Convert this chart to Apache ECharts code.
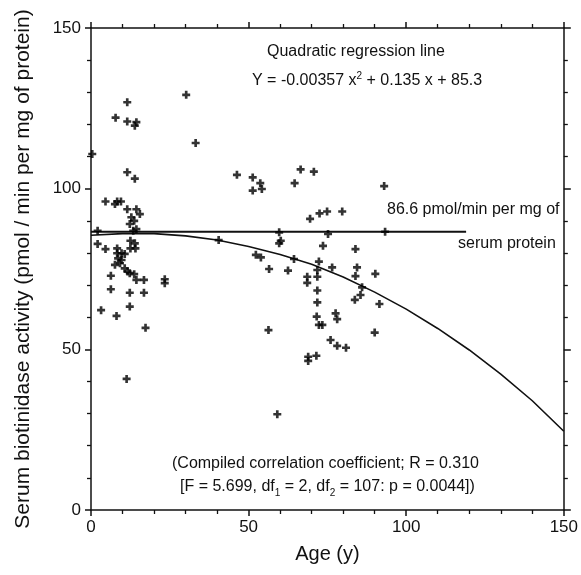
<!DOCTYPE html>
<html>
<head>
<meta charset="utf-8">
<script src="https://cdn.jsdelivr.net/npm/echarts@6/dist/echarts.min.js"></script>
<style>
  html, body { margin: 0; padding: 0; background: #fff; }
  #chart { width: 581px; height: 575px; }
</style>
</head>
<body>
<div id="chart"></div>
<script>
// subjects: age (y) and serum biotinidase activity
const ages = [
  30.2, 11.5, 7.8, 11.5, 14.4, 13.9, 33.2, 0.4, 11.5, 13.9,
  4.6, 7.6, 8.3, 9.5, 11.5, 14.4, 15.5, 12.8, 12.3, 13.7,
  14.4, 13.4, 2.1, 2.1, 4.6, 8.3, 8.3, 9.7, 10.7, 12.5,
  13.9, 12.5, 14.1, 8.6, 9.7, 7.6, 9.2, 10.7, 11.6, 12.3,
  13.7, 14.4, 16.8, 23.4, 23.4, 6.3, 6.3, 12.3, 16.8, 3.2,
  12.3, 8.1, 17.3, 11.3, 46.3, 51.3, 53.7, 54.2, 51.3, 66.5,
  70.7, 64.6, 69.5, 72.5, 74.9, 79.7, 59.7, 75.2, 59.7, 60.2,
  73.6, 40.5, 52.3, 53.9, 93.0, 93.3, 83.9, 56.5, 62.5, 64.4,
  72.3, 71.8, 71.8, 68.6, 68.6, 76.5, 84.4, 83.9, 90.2, 71.8,
  71.8, 86.0, 85.5, 83.7, 91.5, 71.6, 72.3, 73.4, 77.6, 78.1,
  56.3, 90.0, 76.0, 78.1, 80.9, 68.9, 68.9, 71.5, 59.1
];
const activity = [
  129.2, 126.9, 122.1, 120.9, 120.7, 119.6, 114.2, 110.8, 105.1, 103.1,
  96.0, 95.2, 96.0, 96.0, 93.6, 93.6, 92.1, 91.1, 89.0, 90.0,
  87.4, 86.9, 86.9, 82.8, 81.2, 81.4, 79.9, 79.9, 79.7, 83.8,
  83.0, 81.4, 81.4, 78.3, 77.8, 76.3, 76.8, 75.2, 74.2, 73.7,
  73.4, 71.6, 71.6, 71.8, 70.6, 72.9, 68.7, 67.6, 67.6, 62.2,
  63.3, 60.4, 56.7, 40.8, 104.3, 103.5, 101.7, 99.9, 99.4, 106.0,
  105.3, 101.7, 90.6, 92.3, 92.9, 92.9, 86.4, 85.9, 83.0, 83.8,
  82.2, 84.0, 79.4, 78.6, 100.8, 86.6, 81.2, 75.0, 74.5, 78.1,
  77.3, 74.7, 72.6, 72.6, 70.7, 75.5, 75.5, 72.8, 73.5, 68.3,
  64.6, 69.3, 66.9, 65.4, 64.1, 60.2, 57.6, 57.6, 61.2, 59.4,
  56.0, 55.2, 52.9, 51.1, 50.5, 47.7, 46.4, 48.0, 29.8
];

// quadratic regression line, read at every 10 years
const curveAges = [0, 10, 20, 30, 40, 50, 60, 70, 80, 90, 100, 110, 120, 130, 140, 150];
const curveValues = [85.5, 86.0, 86.0, 85.3, 84.0, 82.0, 79.5, 76.5, 72.5, 67.8, 62.5, 56.5, 49.8, 42.3, 34.0, 24.5];

// mean level line
const meanAges = [0, 119];
const meanValue = 86.6;

const axisTicks = [0, 50, 100, 150];

const font = "'Liberation Sans', Arial, sans-serif";
const ink = '#111';

const chart = echarts.init(document.getElementById('chart'));

const points = ages.map((a, i) => [a, activity[i]]);
const curve = curveAges.map((a, i) => [a, curveValues[i]]);
const meanLine = meanAges.map(a => [a, meanValue]);

function valueAxis(extra) {
  return Object.assign({
    type: 'value',
    min: axisTicks[0],
    max: axisTicks[axisTicks.length - 1],
    interval: axisTicks[1] - axisTicks[0],
    axisLine: { show: true, onZero: false, lineStyle: { color: ink, width: 1.5 } },
    axisTick: { show: true, length: 6, lineStyle: { color: ink, width: 1.5 } },
    minorTick: { show: true, splitNumber: 5, length: 4, lineStyle: { color: ink, width: 1.3 } },
    splitLine: { show: false },
    axisLabel: { show: false }
  }, extra);
}

const labelStyle = { show: true, color: ink, fontFamily: font, fontSize: 17 };

const plus = 'path://M3,0H6V3H9V6H6V9H3V6H0V3H3Z';

chart.setOption({
  animation: false,
  backgroundColor: '#fff',
  grid: { left: 91, right: 15, top: 28, bottom: 65 },
  xAxis: [
    valueAxis({
      position: 'bottom',
      axisLabel: Object.assign({ margin: 9 }, labelStyle),
      name: 'Age (y)',
      nameLocation: 'middle',
      nameGap: 34,
      nameTextStyle: { color: ink, fontFamily: font, fontSize: 20 }
    }),
    valueAxis({ position: 'top' })
  ],
  yAxis: [
    valueAxis({
      position: 'left',
      axisLabel: Object.assign({ margin: 10 }, labelStyle),
      name: 'Serum biotinidase activity (pmol / min per mg of protein)',
      nameLocation: 'middle',
      nameGap: 57,
      nameTextStyle: { color: ink, fontFamily: font, fontSize: 21 }
    }),
    valueAxis({ position: 'right', axisTick: { show: true, length: 7, lineStyle: { color: ink, width: 1.5 } } })
  ],
  series: [
    {
      type: 'line',
      data: meanLine,
      symbol: 'none',
      lineStyle: { color: ink, width: 2 },
      z: 2
    },
    {
      type: 'line',
      data: curve,
      symbol: 'none',
      smooth: false,
      lineStyle: { color: ink, width: 1.6 },
      z: 2
    },
    {
      type: 'scatter',
      data: points,
      symbol: plus,
      symbolSize: 8,
      itemStyle: { color: '#000' },
      z: 3
    }
  ],
  graphic: [
    {
      type: 'text', left: 267, top: 44,
      style: { text: 'Quadratic regression line', font: '16px ' + font, fill: ink }
    },
    {
      type: 'text', left: 252, top: 71,
      style: {
        text: 'Y = -0.00357 x{sup|2} + 0.135 x + 85.3',
        font: '16px ' + font, fill: ink,
        rich: { sup: { fontSize: 10, fontFamily: font, fill: ink, verticalAlign: 'top', lineHeight: 20 } }
      }
    },
    {
      type: 'text', left: 387, top: 202,
      style: { text: '86.6 pmol/min per mg of', font: '16px ' + font, fill: ink }
    },
    {
      type: 'text', left: 458, top: 236,
      style: { text: 'serum protein', font: '16px ' + font, fill: ink }
    },
    {
      type: 'text', left: 172, top: 456,
      style: { text: '(Compiled correlation coefficient; R = 0.310', font: '16px ' + font, fill: ink }
    },
    {
      type: 'text', left: 180, top: 479,
      style: {
        text: '[F = 5.699, df{sub|1} = 2, df{sub|2} = 107: p = 0.0044])',
        font: '16px ' + font, fill: ink,
        rich: { sub: { fontSize: 10, fontFamily: font, fill: ink, verticalAlign: 'bottom', lineHeight: 22 } }
      }
    }
  ]
});
</script>
</body>
</html>
